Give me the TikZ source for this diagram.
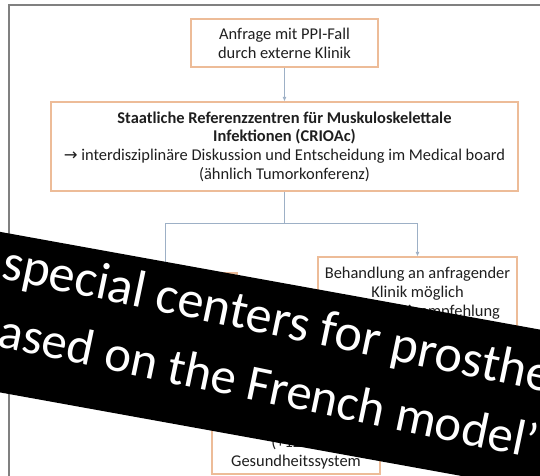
\documentclass[tikz,border=0pt]{standalone}
\usepackage{fontspec}
\setsansfont{Carlito}
\newfontfamily\arrowfont{DejaVu Sans}
\usepackage{xcolor}
\usetikzlibrary{
    arrows.meta,
    positioning,
    calc
}
\definecolor{slideframe}{HTML}{808080}
\definecolor{boxline}{HTML}{EDBC98}
\definecolor{linkblue}{HTML}{9DB0C6}
\definecolor{dark}{HTML}{1F1F1F}
\tikzset{
    % Slide box style
    stepbox/.style={
        rectangle,
        align=center,
        font=\fontsize{16.5}{18.8}\selectfont\sffamily,
        text=dark,
        draw=boxline,
        fill=white,
        line width=1.2pt,
        inner sep=0pt
    },
    % Loose text line
    boxtext/.style={
        font=\fontsize{16.5}{18.8}\selectfont\sffamily,
        text=dark,
        inner sep=0pt,
        anchor=base
    },
    % Arrow styles
    flow/.style={
        -{Latex[length=4.5pt, width=4pt]},
        line width=0.8pt,
        color=linkblue
    },
    joint/.style={
        line width=0.8pt,
        color=linkblue
    },
    % Banner text style
    banner/.style={
        font=\fontsize{#1}{62}\selectfont\sffamily,
        text=white,
        inner sep=0pt,
        anchor=base west
    }
}
\begin{document}
\begin{tikzpicture}[x=1bp, y=-1bp]
    \useasboundingbox (0,0) rectangle (540,476);
    \clip (0,0) rectangle (540,476);

    % Slide frame
    \draw[slideframe, line width=1.6pt] (9,5) rectangle (600,560);

    % Request
    \node[stepbox, minimum width=187bp, minimum height=48bp] (req) at (284.5,43) {Anfrage mit PPI-Fall\\durch externe Klinik};

    % Reference centres
    \node[stepbox, minimum width=467bp, minimum height=89bp] (crioac) at (284.5,146.5) {\textbf{Staatliche Referenzzentren für Muskuloskelettale}\\\textbf{Infektionen (CRIOAc)}\\{\arrowfont →} interdisziplinäre Diskussion und Entscheidung im Medical board\\(ähnlich Tumorkonferenz)};

    % Branches
    \node[stepbox, minimum width=144bp, minimum height=70bp] (ref) at (165,308) {};
    \node[stepbox, minimum width=199bp, minimum height=72bp] (local) at (417.5,293) {Behandlung an anfragender\\Klinik möglich\\mit Therapieempfehlung};
    \node[stepbox, minimum width=168bp, minimum height=114bp] (cost) at (296,417) {};
    \node[boxtext] (costnote) at (296,447.5) {(+12\,\%)};
    \node[boxtext] (costsys) at (296,466) {Gesundheitssystem};

    % Connections
    \coordinate (split) at ($(crioac.south)+(0,32)$);
    \draw[flow] (req) -- (crioac);
    \draw[joint] (crioac.south) -- (split);
    \draw[flow] (split) -| (ref.north);
    \draw[flow] (split) -| (local.north);

    % Banner
    \node[fill=black, minimum width=900bp, minimum height=158bp, rotate=-10.26, inner sep=0pt] (band) at (270,361) {};
    \begin{scope}[shift={(0,312)}, rotate=-11.8, transform shape]
        \node[banner=52.5] (bandtop) at (-7,-33) {special centers for prosthetic};
        \node[banner=51] (bandlow) at (-23,34.7) {based on the French model’};
    \end{scope}

\end{tikzpicture}
\end{document}
